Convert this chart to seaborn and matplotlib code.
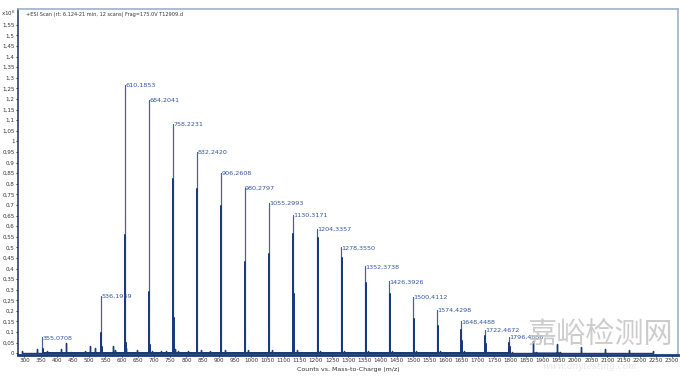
import numpy as np
import pandas as pd
import matplotlib
matplotlib.use('Agg')
import matplotlib.pyplot as plt
import seaborn as sns

sns.set_style('white')
plt.rcParams['font.family'] = ['DejaVu Sans', 'Noto Sans CJK SC']

# labelled peaks (m/z, counts x10^6)
peak_mz = [355.0708, 536.1969, 610.1853, 684.2041, 758.2231, 832.2420, 906.2608,
           980.2797, 1055.2993, 1130.3171, 1204.3357, 1278.3550, 1352.3738,
           1426.3926, 1500.4112, 1574.4298, 1648.4488, 1722.4672, 1796.4856]
peak_lbl = ['355,0708', '536,1969', '610,1853', '684,2041', '758,2231', '832,2420',
            '906,2608', '980,2797', '1055,2993', '1130,3171', '1204,3357', '1278,3550',
            '1352,3738', '1426,3926', '1500,4112', '1574,4298', '1648,4488',
            '1722,4672', '1796,4856']
peak_h = [0.076, 0.27, 1.267, 1.196, 1.082, 0.95, 0.85, 0.78, 0.71, 0.652,
          0.586, 0.50, 0.41, 0.34, 0.265, 0.206, 0.15, 0.112, 0.079]

# isotope peaks next to each labelled peak (dark, thicker part of the sticks)
iso1_mz = [356.07, 537.20, 611.19, 685.21, 759.23, 833.25, 907.27, 981.28, 1054.30,
           1129.31, 1205.34, 1279.36, 1353.38, 1427.40, 1501.42, 1575.43, 1649.45,
           1723.47, 1797.49]
iso1_h = [0.02, 0.097, 0.56, 0.29, 0.82, 0.775, 0.695, 0.43, 0.47, 0.565, 0.546,
          0.45, 0.33, 0.28, 0.16, 0.13, 0.11, 0.08, 0.05]
iso2_mz = [357.07, 538.20, 612.19, 686.21, 760.23, 834.25, 908.27, 982.28, 1056.30,
           1131.32, 1206.34, 1280.36, 1354.38, 1428.40, 1502.42, 1576.43, 1650.45,
           1724.47, 1798.49]
iso2_h = [0.01, 0.03, 0.05, 0.04, 0.165, 0.19, 0.09, 0.12, 0.16, 0.28, 0.28,
          0.18, 0.14, 0.12, 0.09, 0.07, 0.06, 0.045, 0.03]

# unlabelled tail of the series
tail_mz = [1870.50, 1871.5, 1944.52, 1945.5, 2018.54, 2019.5, 2092.56, 2166.58, 2240.60]
tail_h = [0.06, 0.035, 0.046, 0.025, 0.03, 0.018, 0.022, 0.015, 0.009]

# small background peaks
minor_mz = [293, 340, 368, 412, 427, 445, 486, 501, 517, 573, 578, 613, 648, 695,
            722, 736, 765, 775, 806, 846, 872, 918, 990, 1065, 1140, 1214, 1288,
            1362, 1436, 1510, 1584, 1658, 1732, 1806, 1880, 1954]
minor_h = [0.01, 0.022, 0.01, 0.018, 0.047, 0.008, 0.012, 0.035, 0.025, 0.035,
           0.015, 0.025, 0.015, 0.012, 0.01, 0.01, 0.02, 0.01, 0.01, 0.015, 0.01,
           0.015, 0.015, 0.015, 0.015, 0.012, 0.012, 0.012, 0.01, 0.012, 0.01,
           0.01, 0.008, 0.008, 0.006, 0.006]

yticks = [0, 0.05, 0.1, 0.15, 0.2, 0.25, 0.3, 0.35, 0.4, 0.45, 0.5, 0.55, 0.6,
          0.65, 0.7, 0.75, 0.8, 0.85, 0.9, 0.95, 1, 1.05, 1.1, 1.15, 1.2, 1.25,
          1.3, 1.35, 1.4, 1.45, 1.5, 1.55]
ytick_lbl = ['0', '0,05', '0,1', '0,15', '0,2', '0,25', '0,3', '0,35', '0,4', '0,45',
             '0,5', '0,55', '0,6', '0,65', '0,7', '0,75', '0,8', '0,85', '0,9', '0,95',
             '1', '1,05', '1,1', '1,15', '1,2', '1,25', '1,3', '1,35', '1,4', '1,45',
             '1,5', '1,55']
xticks = list(range(300, 2301, 50))


def sticks(mz, h):
    # each peak becomes 0 -> h -> 0 so lineplot draws a vertical stick
    xs, ys = [], []
    for m, v in zip(mz, h):
        xs += [m, m, m]
        ys += [0, v, 0]
    return pd.DataFrame({'mz': xs, 'counts': ys})


fig = plt.figure(figsize=(6.8, 3.78), dpi=100)
ax = fig.add_axes([0.0265, 0.062, 0.9705, 0.914])

dark = '#1b3a7a'
sns.lineplot(data=sticks(minor_mz + tail_mz, minor_h + tail_h), x='mz', y='counts',
             sort=False, estimator=None, color=dark, lw=1.0, ax=ax)
sns.lineplot(data=sticks(peak_mz, peak_h), x='mz', y='counts', sort=False,
             estimator=None, color='#4560a0', lw=0.8, ax=ax)
sns.lineplot(data=sticks(iso1_mz + iso2_mz, iso1_h + iso2_h), x='mz', y='counts',
             sort=False, estimator=None, color=dark, lw=1.1, ax=ax)

for m, h, t in zip(peak_mz, peak_h, peak_lbl):
    ax.text(m + 1, h - 0.003, t, fontsize=4.6, color='#3355a0', ha='left', va='center')

ax.set_xlim(280, 2318)
ax.set_ylim(-0.006, 1.624)
ax.set_xticks(xticks)
ax.set_xticklabels([str(v) for v in xticks], fontsize=4.1, color='#333333')
ax.set_yticks(yticks)
ax.set_yticklabels(ytick_lbl, fontsize=4.1, color='#333333')
ax.tick_params(axis='both', length=1.5, width=0.8, color='#333333', pad=1)
ax.tick_params(axis='x', bottom=True)
ax.tick_params(axis='y', left=True)
ax.set_xlabel('Counts vs. Mass-to-Charge (m/z)', fontsize=4.5, color='#333333', labelpad=3)
ax.set_ylabel('')

for s in ['top', 'right']:
    ax.spines[s].set_color('#9fb0c8')
    ax.spines[s].set_linewidth(1.2)
ax.spines['left'].set_color('#2a3f6a')
ax.spines['left'].set_linewidth(1.2)
ax.spines['bottom'].set_color(dark)
ax.spines['bottom'].set_linewidth(2)

ax.text(0.012, 0.992, '+ESI Scan (rt: 6.124-21 min, 12 scans) Frag=175.0V T12909.d',
        transform=ax.transAxes, fontsize=3.6, color='#333333', ha='left', va='top')
fig.text(0.002, 0.965, 'x10$^{6}$', fontsize=4.1, color='#333333', ha='left', va='center')

# watermark
fig.text(0.884, 0.113, '嘉峪检测网', fontsize=21, color='#c4c4c4', alpha=0.85,
         ha='center', va='center', family=['Noto Sans CJK SC', 'DejaVu Sans'])
fig.text(0.868, 0.03, 'www.anytesting.com', fontsize=6.5, color='#d4d4d4', alpha=0.6,
         ha='center', va='center', style='italic', family='DejaVu Serif')

fig.savefig('out.png', dpi=100)
